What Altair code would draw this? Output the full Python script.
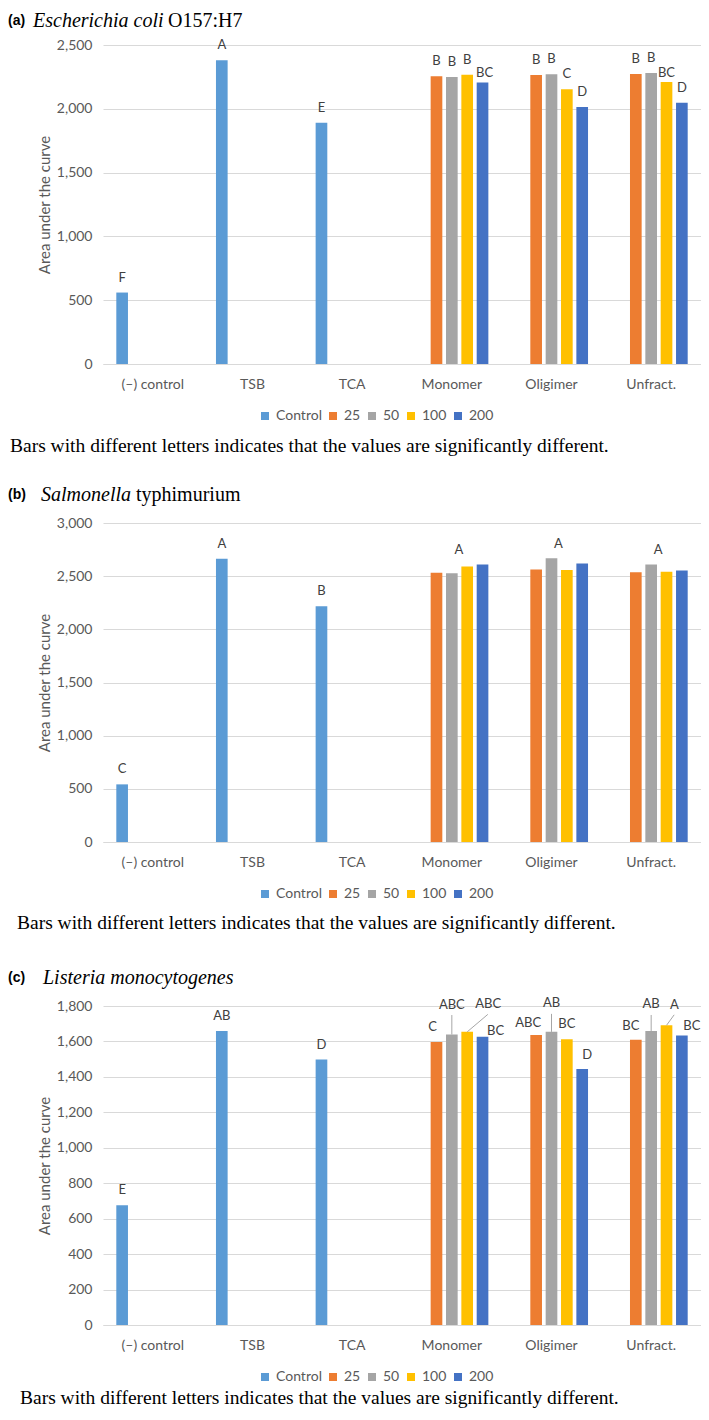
import altair as alt
import pandas as pd

categories = ["(–) control", "TSB", "TCA", "Monomer", "Oligimer", "Unfract."]
control_groups = ["(–) control", "TSB", "TCA"]
fraction_groups = ["Monomer", "Oligimer", "Unfract."]
series = ["Control", "25", "50", "100", "200"]
series_colors = ["#5B9BD5", "#ED7D31", "#A5A5A5", "#FFC000", "#4472C4"]

# (a) Escherichia coli O157:H7
ecoli_control = [560, 2380, 1890]
ecoli_25 = [2255, 2265, 2273]
ecoli_50 = [2250, 2270, 2280]
ecoli_100 = [2267, 2153, 2210]
ecoli_200 = [2207, 2014, 2048]
ecoli_control_letters = ["F", "A", "E"]
ecoli_25_letters = ["B", "B", "B"]
ecoli_50_letters = ["B", "B", "B"]
ecoli_100_letters = ["B", "C", "BC"]
ecoli_200_letters = ["BC", "D", "D"]

# (b) Salmonella typhimurium
salm_control = [542, 2663, 2218]
salm_25 = [2532, 2563, 2538]
salm_50 = [2528, 2669, 2610]
salm_100 = [2591, 2557, 2541]
salm_200 = [2610, 2619, 2554]
salm_control_letters = ["C", "A", "B"]
salm_group_letters = ["A", "A", "A"]

# (c) Listeria monocytogenes
list_control = [676, 1659, 1498]
list_25 = [1597, 1637, 1610]
list_50 = [1639, 1654, 1659]
list_100 = [1654, 1612, 1691]
list_200 = [1626, 1445, 1633]
list_control_letters = ["E", "AB", "D"]
list_25_letters = ["C", "ABC", "BC"]
list_50_letters = ["ABC", "AB", "AB"]
list_100_letters = ["ABC", "BC", "A"]
list_200_letters = ["BC", "D", "BC"]

caption_text = "Bars with different letters indicates that the values are significantly different."
y_title = "Area under the curve"

GRID = "#D9D9D9"
TXT = "#595959"
LAB = "#404040"
H = 319
W = 598


def bar_table(ctrl, t25, t50, t100, t200):
    rows = [{"cat": c, "series": "Control", "v": v} for c, v in zip(control_groups, ctrl)]
    for s, vals in zip(series[1:], [t25, t50, t100, t200]):
        rows += [{"cat": c, "series": s, "v": v} for c, v in zip(fraction_groups, vals)]
    return pd.DataFrame(rows)


def letter_table(bars, ctrl_letters, treat_letters):
    rows = []
    for c, t in zip(control_groups, ctrl_letters):
        v = bars[(bars.cat == c) & (bars.series == "Control")].v.iloc[0]
        rows.append({"cat": c, "series": "Control", "v": v, "t": t})
    for s, lets in zip(series[1:], treat_letters):
        for c, t in zip(fraction_groups, lets):
            v = bars[(bars.cat == c) & (bars.series == s)].v.iloc[0]
            rows.append({"cat": c, "series": s, "v": v, "t": t})
    return rows


def panel(bars, labels, nudges, ymax, ystep, leaders, head, cap):
    X = alt.X("cat:N", sort=categories,
              scale=alt.Scale(domain=categories, paddingInner=0.23, paddingOuter=0.115),
              axis=alt.Axis(title=None, labelAngle=0, ticks=False, tickSize=0, labelPadding=13,
                            domainColor=GRID, domainWidth=1, grid=False))
    XO = alt.XOffset("series:N", scale=alt.Scale(domain=series, paddingInner=0.24, paddingOuter=0.12))
    Y = alt.Y("v:Q", scale=alt.Scale(domain=[0, ymax], nice=False, zero=True),
              axis=alt.Axis(values=list(range(0, ymax + 1, ystep)), format=",d", title=y_title,
                            grid=True, gridColor=GRID, gridWidth=1, domain=False, ticks=False,
                            tickSize=0, labelPadding=11, titlePadding=4))
    C = alt.Color("series:N", scale=alt.Scale(domain=series, range=series_colors),
                  legend=alt.Legend(title=None, orient="none", legendX=155, legendY=H + 45,
                                    direction="horizontal", symbolType="square", symbolSize=64,
                                    symbolStrokeWidth=0, labelFont="Lato", labelFontSize=14,
                                    labelColor=TXT, columnPadding=4, labelOffset=4, padding=0))
    layers = [alt.Chart(bars).mark_bar().encode(x=X, xOffset=XO, y=Y, color=C)]

    # leader lines
    for (c, s, x2off, y2off) in leaders:
        v = bars[(bars.cat == c) & (bars.series == s)].v.iloc[0]
        d = pd.DataFrame([{"cat": c, "series": s, "v": v}])
        layers.append(alt.Chart(d).mark_rule(color="#A6A6A6", strokeWidth=1, x2Offset=x2off,
                                             y2Offset=y2off)
                      .encode(x=X, xOffset=XO, y=Y, x2=alt.X2("cat"), y2=alt.Y2("v")))

    # letter labels grouped by nudge
    groups = {}
    for r in labels:
        key = nudges.get((r["cat"], r["series"]), (0, -15))
        groups.setdefault(key, []).append(r)
    for (dx, dy), rows in groups.items():
        layers.append(alt.Chart(pd.DataFrame(rows)).mark_text(
            font="Lato", fontSize=13, color=LAB, baseline="middle", align="center", dx=dx, dy=dy)
            .encode(x=X, xOffset=XO, y=Y, text="t:N"))

    # heading pieces
    for (txt, hx, hy, font, size, weight, style) in head:
        layers.append(alt.Chart(pd.DataFrame([{"t": txt}])).mark_text(
            align="left", baseline="middle", font=font, fontSize=size, fontWeight=weight,
            fontStyle=style, color="black")
            .encode(text="t:N", x=alt.value(hx), y=alt.value(hy)))

    # caption
    layers.append(alt.Chart(pd.DataFrame([{"t": caption_text}])).mark_text(
        align="left", baseline="alphabetic", font="Liberation Serif", fontSize=19.5, color="black")
        .encode(text="t:N", x=alt.value(cap[0]), y=alt.value(cap[1])))

    return alt.layer(*layers).properties(width=W, height=H)


# ---------- panel (a)
bars_a = bar_table(ecoli_control, ecoli_25, ecoli_50, ecoli_100, ecoli_200)
labels_a = letter_table(bars_a, ecoli_control_letters,
                        [ecoli_25_letters, ecoli_50_letters, ecoli_100_letters, ecoli_200_letters])
nudges_a = {("Monomer", "200"): (2, -9), ("Unfract.", "100"): (0, -9)}
head_a = [("(a)", -95, -24, "Liberation Sans", 14, "bold", "normal"),
          ("Escherichia coli", -70, -24, "Liberation Serif", 20, "normal", "italic"),
          ("O157:H7", -70 + 135, -24, "Liberation Serif", 20, "normal", "normal")]
pa = panel(bars_a, labels_a, nudges_a, 2500, 500, [], head_a, (-93, H + 88))

# ---------- panel (b)
bars_b = bar_table(salm_control, salm_25, salm_50, salm_100, salm_200)
labels_b = letter_table(bars_b, salm_control_letters, [])
for c, t in zip(fraction_groups, salm_group_letters):
    top = bars_b[bars_b.cat == c].v.max()
    labels_b.append({"cat": c, "series": "50", "v": top, "t": t})
nudges_b = {(c, "50"): (7, -14) for c in fraction_groups}
head_b = [("(b)", -95, -28.3, "Liberation Sans", 14, "bold", "normal"),
          ("Salmonella", -62, -28.3, "Liberation Serif", 20, "normal", "italic"),
          ("typhimurium", -62 + 95, -28.3, "Liberation Serif", 20, "normal", "normal")]
pb = panel(bars_b, labels_b, nudges_b, 3000, 500, [], head_b, (-86, H + 87))

# ---------- panel (c)
bars_c = bar_table(list_control, list_25, list_50, list_100, list_200)
labels_c = letter_table(bars_c, list_control_letters,
                        [list_25_letters, list_50_letters, list_100_letters, list_200_letters])
nudges_c = {
    ("Monomer", "25"): (-4, -15), ("Monomer", "50"): (0, -30), ("Monomer", "100"): (21, -27.5),
    ("Monomer", "200"): (13, -6),
    ("Oligimer", "25"): (-8, -11.5), ("Oligimer", "50"): (0, -28.5), ("Oligimer", "100"): (0, -15),
    ("Oligimer", "200"): (5, -13.5),
    ("Unfract.", "25"): (-5, -13.5), ("Unfract.", "50"): (0, -26.5), ("Unfract.", "100"): (8, -20.5),
    ("Unfract.", "200"): (10, -9.5),
}
leaders_c = [("Monomer", "50", 0, -19.5), ("Oligimer", "50", 0, -18), ("Unfract.", "50", 0, -16),
             ("Monomer", "100", 36, -17.5), ("Unfract.", "100", 23, -10.5)]
head_c = [("(c)", -95, -28.3, "Liberation Sans", 14, "bold", "normal"),
          ("Listeria monocytogenes", -60, -28.3, "Liberation Serif", 20, "normal", "italic")]
pc = panel(bars_c, labels_c, nudges_c, 1800, 200, leaders_c, head_c, (-83, H + 79))

top_two = (alt.vconcat(pa, pb, spacing=28)
           .resolve_scale(color="independent").resolve_legend(color="independent"))
chart = (alt.vconcat(top_two, pc, spacing=34)
         .resolve_scale(color="independent").resolve_legend(color="independent")
         .properties(padding={"top": 3, "left": 0, "right": 0, "bottom": 0})
         .configure_view(stroke=None)
         .configure_axis(labelFont="Lato", labelFontSize=14, labelColor=TXT, titleFont="Lato",
                         titleFontSize=15, titleFontWeight="normal", titleColor=TXT))

chart.save("out.html", embed_options={"renderer": "svg", "actions": False})
